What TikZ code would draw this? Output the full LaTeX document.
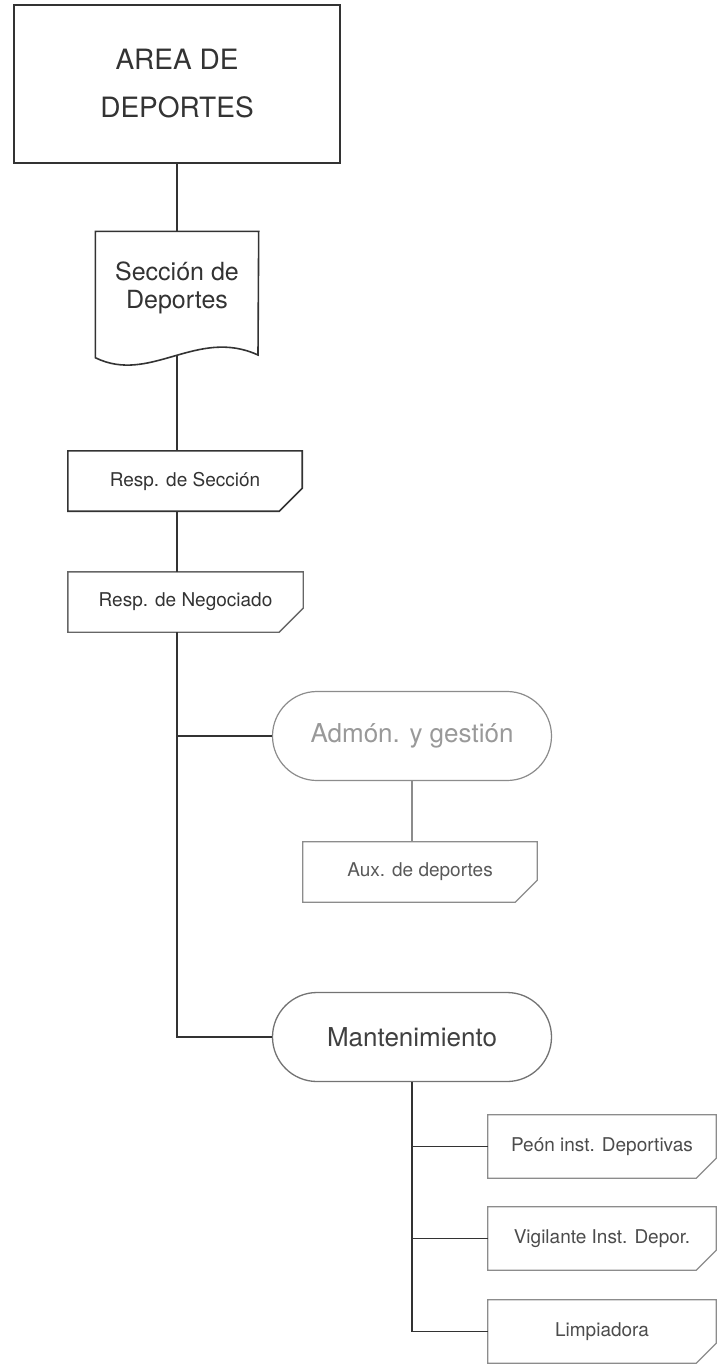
\documentclass[tikz,border=0pt]{standalone}
\usepackage{fontspec}
\setmainfont{TeX Gyre Heros}
\usetikzlibrary{shapes.misc}
\tikzset{
  ink/.style={draw=black!80, line width=1.6pt},
  faint/.style={draw=black!45, line width=1.2pt},
  box/.style={rectangle, inner sep=0pt, align=center, text=black!80},
  card/.style={box, minimum height=60pt, font=\fontsize{19}{22}\selectfont},
  pill/.style={rounded rectangle, inner sep=0pt, minimum width=279pt,
    minimum height=89pt, text=black!75, font=\fontsize{26}{30}\selectfont},
}
% outline of a card with the lower right corner cut off
\newcommand{\cardline}[3]{%
  \draw[#3] (#1.north west) -- (#1.north east) -- ([yshift=#2]#1.south east)
    -- ([xshift=-#2]#1.south east) -- (#1.south west) -- cycle;}
\begin{document}
\begin{tikzpicture}[x=1pt, y=-1pt]
  \useasboundingbox[fill=white] (0,0) rectangle (720,1366);
  % top of the chart
  \node[box, ink, minimum width=326pt, minimum height=158pt,
    font=\fontsize{28}{48}\selectfont] (area) at (177,84) {AREA DE\\DEPORTES};
  \node[box, minimum width=163pt, minimum height=113pt,
    font=\fontsize{25}{28}\selectfont] (seccion) at (177,288) {Sección de\\Deportes};
  \draw[ink] (seccion.south west) -- ++(0,13) .. controls ++(55,27) and (197,327) ..
    (258,355) -- (seccion.north east) -- (seccion.north west) -- cycle;
  \coordinate (seccion-wave) at (177,355);
  \node[card, minimum width=234pt] (rsec) at (185,481) {Resp. de Sección};
  \cardline{rsec}{23pt}{ink}
  \node[card, minimum width=235pt] (rneg) at (185.5,602) {Resp. de Negociado};
  \cardline{rneg}{24pt}{draw=black!60, line width=1.4pt}
  % two branches
  \node[pill, faint, text=black!40] (admon) at (412,736) {Admón. y gestión};
  \node[card, minimum width=234pt, text=black!65] (aux) at (420,872) {Aux. de deportes};
  \cardline{aux}{22pt}{faint}
  \node[pill, draw=black!55, line width=1.3pt] (mant) at (412,1037) {Mantenimiento};
  % maintenance staff
  \node[card, minimum width=228pt, minimum height=63pt, text=black!70] (peon) at (602,1146.5) {Peón inst. Deportivas};
  \node[card, minimum width=228pt, minimum height=63pt, text=black!70] (vig) at (602,1238.5) {Vigilante Inst. Depor.};
  \node[card, minimum width=228pt, minimum height=63pt, text=black!70] (limp) at (602,1331.5) {Limpiadora};
  \foreach \n in {peon,vig,limp}
    \cardline{\n}{20pt}{faint};
  % connectors
  \draw[ink] (area.south) -- (seccion.north);
  \draw[ink] (seccion-wave) -- (seccion-wave |- rsec.north);
  \draw[ink] (rsec.south -| area.south) -- (rneg.north -| area.south);
  \draw[ink] (rneg.south -| area.south) |- (mant.west);
  \draw[ink] (admon.west) -- (admon.west -| area.south);
  \draw[faint] (admon.south) -- (admon.south |- aux.north);
  \draw[ink] (mant.south) |- (limp.west);
  \draw[ink] (peon.west) -- (peon.west -| mant.south);
  \draw[ink] (vig.west) -- (vig.west -| mant.south);
\end{tikzpicture}
\end{document}
